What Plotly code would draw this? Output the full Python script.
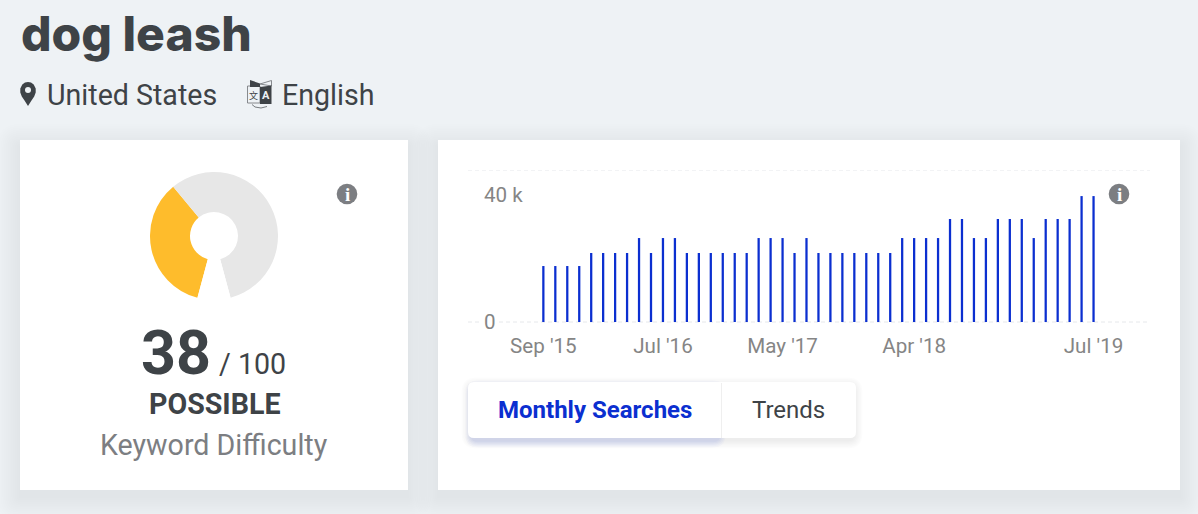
import plotly.graph_objects as go

W, H = 1198, 514

# monthly searches, Sep '15 .. Jul '19
months = ["Sep '15", "Oct '15", "Nov '15", "Dec '15", "Jan '16", "Feb '16", "Mar '16", "Apr '16",
          "May '16", "Jun '16", "Jul '16", "Aug '16", "Sep '16", "Oct '16", "Nov '16", "Dec '16",
          "Jan '17", "Feb '17", "Mar '17", "Apr '17", "May '17", "Jun '17", "Jul '17", "Aug '17",
          "Sep '17", "Oct '17", "Nov '17", "Dec '17", "Jan '18", "Feb '18", "Mar '18", "Apr '18",
          "May '18", "Jun '18", "Jul '18", "Aug '18", "Sep '18", "Oct '18", "Nov '18", "Dec '18",
          "Jan '19", "Feb '19", "Mar '19", "Apr '19", "May '19", "Jun '19", "Jul '19"]
searches = [17600, 17600, 17600, 17600, 21700, 21700, 21700, 21700,
            26400, 21700, 26400, 26400, 21700, 21700, 21700, 21700,
            21700, 21700, 26400, 26400, 26400, 21700, 26400, 21700,
            21700, 21700, 21700, 21700, 21700, 21700, 26400, 26400,
            26400, 26400, 32400, 32400, 26400, 26400, 32400, 32400,
            32400, 26400, 32400, 32400, 32400, 39600, 39600]
month_ticks = ["Sep '15", "Jul '16", "May '17", "Apr '18", "Jul '19"]
search_ticks = [0, 40000]
search_tick_labels = ["0", "40 k"]

difficulty = 38
difficulty_rest = 62
difficulty_gap = 9.09

DARK = '#3e4347'
GREY = '#7c7e82'
BLUE = '#0b2fd0'
PAGE = '#eef2f5'


def px(x):
    return x / W


def py(y):
    return 1 - y / H


def round_rect(x0, y0, x1, y1, r):
    return (f'M {px(x0 + r)} {py(y0)} L {px(x1 - r)} {py(y0)} Q {px(x1)} {py(y0)} {px(x1)} {py(y0 + r)} '
            f'L {px(x1)} {py(y1 - r)} Q {px(x1)} {py(y1)} {px(x1 - r)} {py(y1)} '
            f'L {px(x0 + r)} {py(y1)} Q {px(x0)} {py(y1)} {px(x0)} {py(y1 - r)} '
            f'L {px(x0)} {py(y0 + r)} Q {px(x0)} {py(y0)} {px(x0 + r)} {py(y0)} Z')


def path(points, fill, line=None, closed=True):
    d = 'M ' + ' L '.join(f'{px(a)} {py(b)}' for a, b in points) + (' Z' if closed else '')
    return dict(type='path', xref='paper', yref='paper', path=d, fillcolor=fill,
                line=dict(width=0.9 if line else 0, color=line or 'rgba(0,0,0,0)'), layer='below')


def label(x, y, text, size, color, family='Roboto', weight=400, anchor='left'):
    return dict(x=px(x), y=py(y), xref='paper', yref='paper', text=text, showarrow=False,
                xanchor=anchor, yanchor='middle', align=anchor,
                font=dict(family=family, size=size, color=color, weight=weight))


def shadow(x0, y0, x1, y1, r, color, drop=4, steps=8, spread=1.5):
    out = []
    for i in range(steps, 0, -1):
        d = i * spread
        out.append(dict(type='path', xref='paper', yref='paper', layer='below',
                        path=round_rect(x0 - d, y0 - d + drop, x1 + d, y1 + d + drop, r + d),
                        fillcolor=color, line=dict(width=0)))
    return out


def card(x0, y0, x1, y1, r=0, fill='white'):
    return dict(type='path', xref='paper', yref='paper', layer='below', path=round_rect(x0, y0, x1, y1, r),
                fillcolor=fill, line=dict(width=0))


def dot(x, y, r, fill):
    return dict(type='circle', xref='paper', yref='paper', layer='below',
                x0=px(x - r), x1=px(x + r), y0=py(y + r), y1=py(y - r),
                fillcolor=fill, line=dict(width=0))


fig = go.Figure()

fig.add_trace(go.Pie(values=[difficulty, difficulty_rest, difficulty_gap],
                     marker=dict(colors=['#febc2c', '#e7e7e7', 'white'], line=dict(width=0)),
                     hole=0.375, sort=False, direction='clockwise', rotation=195,
                     textinfo='none', hoverinfo='skip', showlegend=False,
                     domain=dict(x=[px(150), px(278)], y=[py(300), py(172)])))

fig.add_trace(go.Bar(x=months, y=searches, width=0.19, marker=dict(color=BLUE, line=dict(width=0)),
                     showlegend=False, name='Monthly Searches'))

shapes = []
shapes += shadow(20, 140, 408, 490, 0, 'rgba(30,30,30,0.0045)', drop=7, steps=13, spread=1.8)
shapes += shadow(438, 140, 1180, 490, 0, 'rgba(30,30,30,0.0045)', drop=7, steps=13, spread=1.8)
shapes += [card(20, 140, 408, 490), card(438, 140, 1180, 490)]

# chart guide lines, the 0 label sits in a gap of the lower one
for x0, x1, yval in [(468, 1150, 47800), (468, 480, 0), (499, 1150, 0)]:
    shapes.append(dict(type='line', xref='paper', yref='y', x0=px(x0), x1=px(x1), y0=yval, y1=yval,
                       line=dict(color='#e6e8eb', width=1, dash='4px,3px'), layer='below'))

# tabs
shapes += shadow(470, 384, 854, 438, 6, 'rgba(30,30,40,0.012)', drop=2, steps=6, spread=1.4)
shapes += shadow(472, 384, 719, 438, 6, 'rgba(20,50,210,0.022)', drop=3, steps=5, spread=1.3)
shapes.append(card(468, 382, 856, 438, 6))
shapes.append(dict(type='line', xref='paper', yref='paper', x0=px(721.5), x1=px(721.5), y0=py(383), y1=py(438),
                   line=dict(color='#efefef', width=1), layer='below'))

# location pin
shapes.append(path([(28, 106), (24.5, 100.5), (21.8, 96.5), (20.3, 92.5), (20.3, 88.5), (22.3, 84.5), (25, 82.6),
                    (28, 82), (31, 82.6), (33.7, 84.5), (35.7, 88.5), (35.7, 92.5), (34.2, 96.5), (31.5, 100.5)], DARK))
shapes.append(dot(28, 90, 3, PAGE))

# translate icon
shapes.append(path([(247.5, 86), (260, 86), (260, 103), (247.5, 103)], PAGE, line='#7a7e82'))
shapes.append(path([(250, 80), (260, 83.5), (260, 87), (250, 87)], DARK))
shapes.append(path([(260, 84), (271.5, 80.5), (271.5, 86)], PAGE, line='#7a7e82'))
shapes.append(path([(260, 87), (271.5, 85.5), (271.5, 104), (260, 104)], DARK))
shapes.append(path([(252, 104.5), (255, 107), (261, 108), (267, 106.5)], 'rgba(0,0,0,0)', line='#6a6e72', closed=False))

shapes += [dot(347, 194, 10.3, GREY), dot(1119, 194, 10.3, GREY)]

annotations = [
    label(19, 33, 'dog leash', 48, DARK, family='Inter', weight=800),
    label(45, 95, 'United States', 28.6, DARK),
    label(280, 95, 'English', 28.6, DARK),
    label(253.5, 95, '文', 9, DARK, family='Noto Sans CJK SC', anchor='center'),
    label(266, 95, 'A', 11, PAGE, weight=700, anchor='center'),
    label(347, 194, 'i', 19, 'white', family='Liberation Serif', weight=700, anchor='center'),
    label(1119, 194, 'i', 19, 'white', family='Liberation Serif', weight=700, anchor='center'),
    label(176, 353, '38', 61, DARK, weight=700, anchor='center'),
    label(217, 364, '/ 100', 28.6, DARK),
    label(214.5, 404, 'POSSIBLE', 28.6, DARK, weight=700, anchor='center'),
    label(214, 445, 'Keyword Difficulty', 28.6, GREY, anchor='center'),
    label(595, 410, 'Monthly Searches', 24, BLUE, weight=700, anchor='center'),
    label(788.5, 410, 'Trends', 24, DARK, anchor='center'),
]

fig.update_layout(
    width=W, height=H,
    margin=dict(l=0, r=0, t=0, b=0),
    paper_bgcolor=PAGE,
    plot_bgcolor='rgba(0,0,0,0)',
    shapes=shapes,
    annotations=annotations,
    xaxis=dict(domain=[px(468), px(1150)], type='category', range=[-6.3, 50.72], anchor='free', position=py(331),
               tickmode='array', tickvals=month_ticks, ticktext=month_ticks, showgrid=False, zeroline=False,
               showline=False, ticks='', tickfont=dict(family='Roboto', size=20.6, color='#858585')),
    # range runs below zero so the inside 0 label keeps room and is not dropped
    yaxis=dict(domain=[py(340), py(170)], range=[-5660, 47800], tickmode='array', tickvals=search_ticks,
               ticktext=search_tick_labels, ticklabelposition='inside', ticklabelstandoff=13,
               showgrid=False, zeroline=False, showline=False, ticks='',
               tickfont=dict(family='Roboto', size=20.6, color='#858585')),
)

fig.write_html("out.html", config=dict(displayModeBar=False),
               post_script="document.body.style.margin='0';document.body.style.overflow='hidden';")
